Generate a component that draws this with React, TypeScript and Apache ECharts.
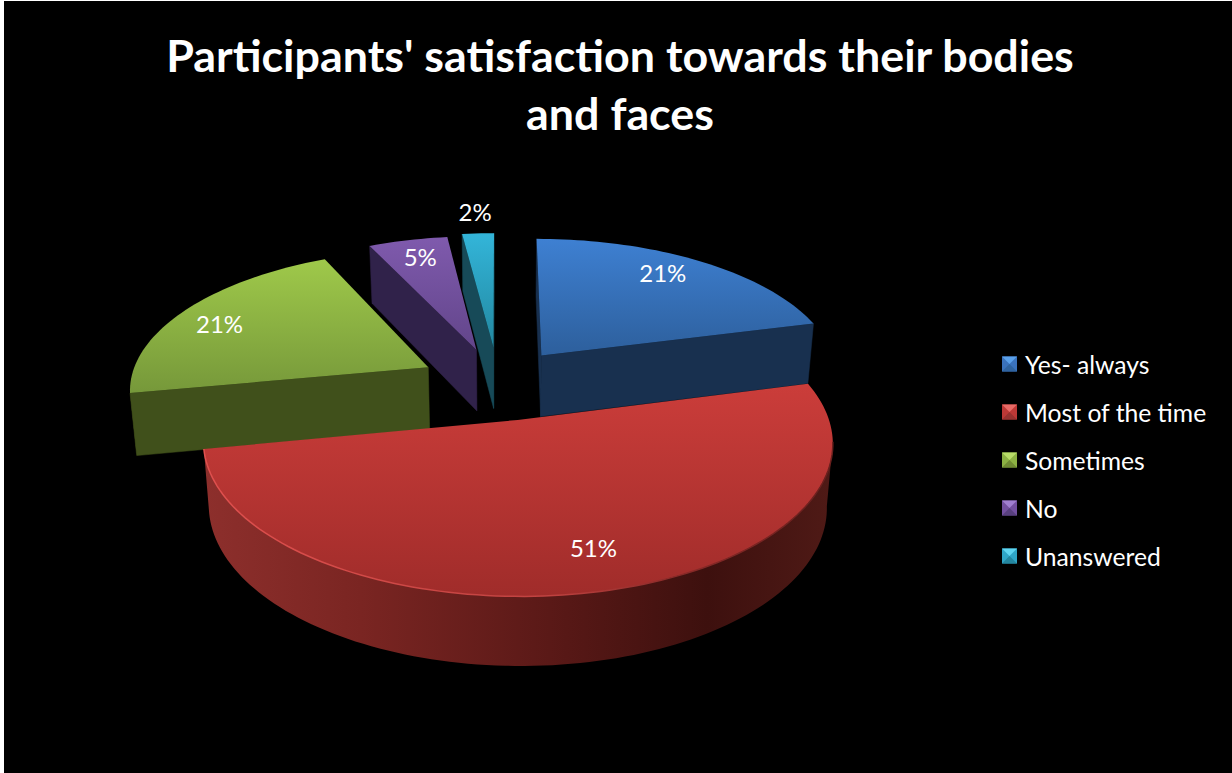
import React, { useEffect, useRef } from "react";
import * as echarts from "echarts";

// Survey answers and their shares, in percent.
const categories = ["Yes- always", "Most of the time", "Sometimes", "No", "Unanswered"];
const shares = [21, 51, 21, 5, 2];

// Slice styling, one entry per category.
const baseColors = ["#3a72bc", "#bd3836", "#8cb143", "#7350a0", "#2fa5c6"];
const topLight = ["#3e80d2", "#cb3d3a", "#9fc94a", "#7f5aad", "#33b5d9"];
const topDark = ["#2d5f9c", "#a02c2a", "#76983a", "#62458a", "#2288a0"];
const wallColors = ["#18304f", "#6a1f1d", "#40501b", "#30224a", "#174a58"];
const bevelLight = ["#5aa0ea", "#e86a66", "#b8dc68", "#a07fd0", "#5fd4f0"];
const bevelDark = ["#2f639f", "#983230", "#6f8a33", "#58407f", "#23869f"];

// How far each slice is pulled out of the pie, small screen nudges for the
// pulled-out pieces, and where each label sits relative to its slice's bisector.
const explode = [0.22, 0.29, 0.27, 0.28, 0.25];
const nudgeX = [0, -4, -3, -3, -4];
const nudgeY = [0, 0, 5, 7, 2];
const labelRadius = [0.83, 0.78, 0.83, 0.83, 1.22];
const labelTurn = [-3.5, -3, -2.5, 0.5, 0];

// Back-to-front paint order of the slices.
const paintOrder = [4, 3, 2, 0, 1];

// Perspective projection of the pie plane.
const CX = 498;
const CY = 378;
const RX = 299;
const RY = 139;
const PERSPECTIVE = 0.14;
const WALL_SHRINK = 0.982;

const total = shares.reduce((a, b) => a + b, 0);
const startAngles = shares.map((_, i) =>
  (shares.slice(0, i).reduce((a, b) => a + b, 0) / total) * 360
);

type Pt = [number, number];

function project(u: number, v: number): Pt {
  const s = 1 / (1 - PERSPECTIVE * v);
  return [CX + RX * u * s, CY + RY * v * s];
}

function drop(p: Pt): Pt {
  const s = 1 + (p[1] - CY) / 800;
  return [CX + (p[0] - CX) * WALL_SHRINK, p[1] + 62 * (1 + 0.45 * (s - 1))];
}

function direction(deg: number): Pt {
  const a = (deg * Math.PI) / 180;
  return [Math.sin(a), -Math.cos(a)];
}

function renderSlice(index: number) {
  return (_params: any, api: any) => {
    const value = api.value(0);
    const a0 = startAngles[index];
    const sweep = (value / total) * 360;
    const mid = direction(a0 + sweep / 2);
    const ox = mid[0] * explode[index];
    const oy = mid[1] * explode[index];
    const place = (u: number, v: number): Pt => {
      const p = project(u, v);
      return [p[0] + nudgeX[index], p[1] + nudgeY[index]];
    };
    const apex = place(ox, oy);

    const arc: Pt[] = [];
    const steps = Math.max(4, Math.round(sweep / 1.5));
    for (let k = 0; k <= steps; k++) {
      const d = direction(a0 + (sweep * k) / steps);
      arc.push(place(ox + d[0], oy + d[1]));
    }

    const children: any[] = [];
    const wallStyle = { fill: wallColors[index], stroke: wallColors[index], lineWidth: 0.5 };
    const addWall = (pts: Pt[], style: any) => {
      children.push({
        type: "polygon",
        shape: { points: [...pts, ...pts.map(drop).reverse()] },
        style,
      });
    };

    // Only faces whose top edge runs leftward in the clockwise walk are visible.
    if (arc[0][0] < apex[0]) addWall([apex, arc[0]], wallStyle);
    if (apex[0] < arc[arc.length - 1][0]) addWall([arc[arc.length - 1], apex], wallStyle);

    let run: Pt[] = [];
    const runs: Pt[][] = [];
    for (let k = 0; k < arc.length - 1; k++) {
      if (arc[k + 1][0] < arc[k][0]) {
        if (!run.length) run.push(arc[k]);
        run.push(arc[k + 1]);
      } else if (run.length) {
        runs.push(run);
        run = [];
      }
    }
    if (run.length) runs.push(run);

    const outerFill =
      index === 1
        ? {
            type: "linear",
            x: 0,
            y: 0,
            x2: 1,
            y2: 0,
            colorStops: [
              { offset: 0, color: "#8d2f2c" },
              { offset: 0.25, color: "#7a2522" },
              { offset: 0.55, color: "#5a1917" },
              { offset: 0.8, color: "#3d100e" },
              { offset: 1, color: "#4f1a16" },
            ],
          }
        : wallColors[index];
    runs.forEach((r) => addWall(r, { fill: outerFill }));

    children.push({
      type: "polygon",
      shape: { points: [apex, ...arc] },
      style: {
        fill: {
          type: "linear",
          x: 0,
          y: 0,
          x2: 0,
          y2: 1,
          colorStops: [
            { offset: 0, color: topLight[index] },
            { offset: 1, color: topDark[index] },
          ],
        },
      },
    });

    // Soft highlight along the front rim of the large slice, fading to the right.
    if (index === 1 && runs.length) {
      children.push({
        type: "polyline",
        shape: { points: runs[0] },
        style: {
          fill: "none",
          lineWidth: 1.5,
          stroke: {
            type: "linear",
            x: 0,
            y: 0,
            x2: 1,
            y2: 0,
            colorStops: [
              { offset: 0, color: "#e0504e" },
              { offset: 0.55, color: "#c04240" },
              { offset: 0.75, color: "#8a2a28" },
              { offset: 1, color: "#6a1f1d" },
            ],
          },
        },
      });
    }

    const toward = direction(a0 + sweep / 2 + labelTurn[index]);
    const at = place(ox + toward[0] * labelRadius[index], oy + toward[1] * labelRadius[index]);
    children.push({
      type: "text",
      style: {
        text: `${value}%`,
        x: at[0],
        y: at[1],
        fill: "#ffffff",
        font: '24px Lato, "Open Sans", sans-serif',
        align: "center",
        verticalAlign: "middle",
      },
    });

    return { type: "group", children };
  };
}

// Pyramid bevel drawn over each legend swatch.
const SWATCH_X = 998;
const SWATCH_SIZE = 15;
const LEGEND_TOP = 355.5;
const LEGEND_STEP = 48;

function swatchBevels() {
  const items: any[] = [];
  categories.forEach((_, i) => {
    const x = SWATCH_X;
    const y = LEGEND_TOP + LEGEND_STEP * i;
    const s = SWATCH_SIZE;
    const c: Pt = [x + s / 2, y + s / 2];
    items.push({
      type: "polygon",
      z: 10,
      shape: { points: [[x, y], [x + s, y], c] },
      style: { fill: bevelLight[i] },
    });
    items.push({
      type: "polygon",
      z: 10,
      shape: { points: [[x, y + s], [x + s, y + s], c] },
      style: { fill: bevelDark[i] },
    });
  });
  return items;
}

export default function App() {
  const ref = useRef<HTMLDivElement>(null);

  useEffect(() => {
    document.body.style.margin = "0";
    document.body.style.background = "#ffffff";
    const chart = echarts.init(ref.current!, undefined, { renderer: "svg" });
    chart.setOption({
      animation: false,
      backgroundColor: "#000000",
      color: baseColors,
      title: {
        text: "Participants' satisfaction towards their bodies\nand faces",
        left: 611,
        top: 20,
        textAlign: "center",
        textStyle: {
          color: "#ffffff",
          fontFamily: 'Lato, "Open Sans", sans-serif',
          fontWeight: "bold",
          fontSize: 44.8,
          lineHeight: 58,
        },
      },
      legend: {
        orient: "vertical",
        left: SWATCH_X,
        top: 350.5,
        padding: 0,
        icon: "rect",
        itemWidth: SWATCH_SIZE,
        itemHeight: SWATCH_SIZE,
        itemGap: 23,
        data: categories,
        selectedMode: false,
        textStyle: {
          color: "#ffffff",
          fontFamily: 'Lato, "Open Sans", sans-serif',
          fontSize: 24.7,
          lineHeight: 23,
          padding: [0, 0, 0, 3],
        },
      },
      graphic: { elements: swatchBevels() },
      series: paintOrder.map((i) => ({
        type: "custom",
        name: categories[i],
        coordinateSystem: "none",
        silent: true,
        itemStyle: { color: baseColors[i] },
        encode: { value: 0 },
        data: [[shares[i]]],
        renderItem: renderSlice(i),
      })),
    });
    return () => chart.dispose();
  }, []);

  return (
    <div
      ref={ref}
      style={{ position: "absolute", left: 4, top: 1, width: 1228, height: 772 }}
    />
  );
}
